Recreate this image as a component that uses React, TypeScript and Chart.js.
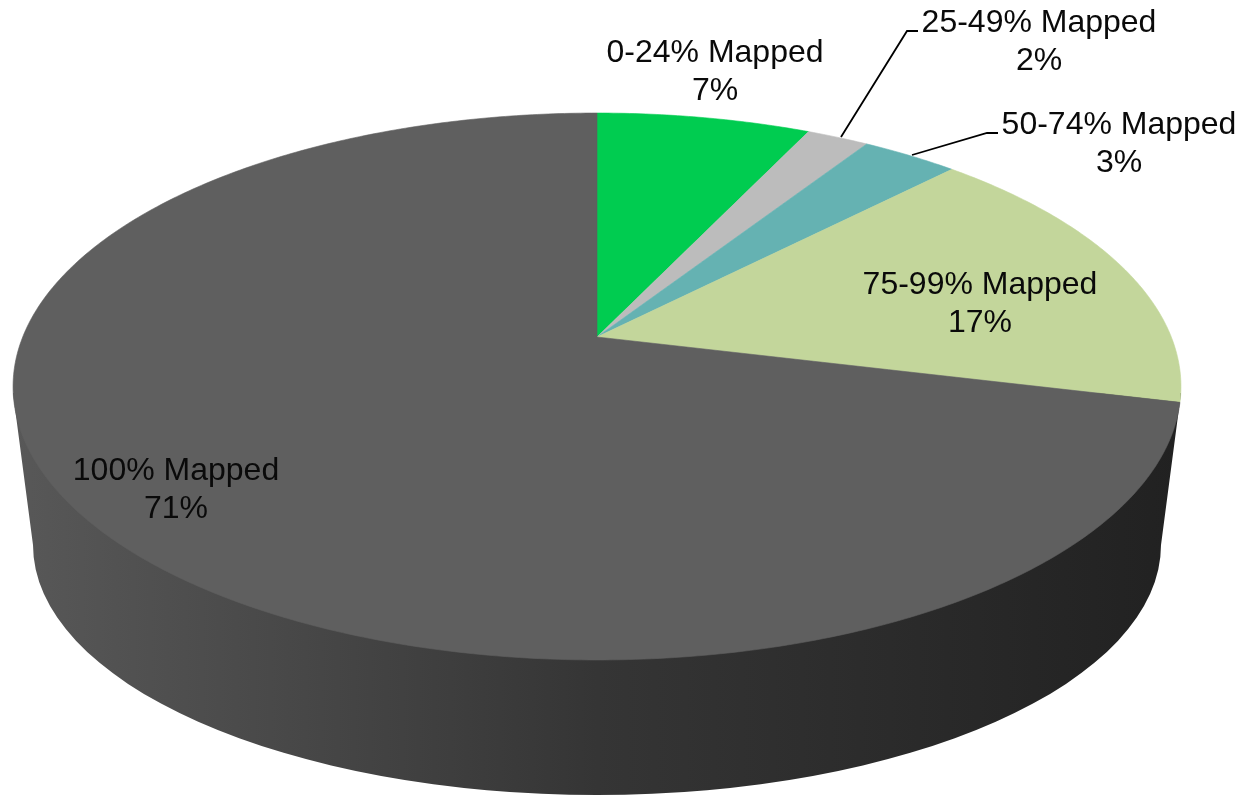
import React, { useEffect, useRef } from "react";
import { Chart, registerables } from "chart.js";

Chart.register(...registerables);

const categories = ["0-24% Mapped", "25-49% Mapped", "50-74% Mapped", "75-99% Mapped", "100% Mapped"];
const shares = [7.05, 2.05, 3.2, 16.5, 71.2];
const shareLabels = ["7%", "2%", "3%", "17%", "71%"];
const sliceColors = ["#00cc50", "#bcbcbc", "#65b2b2", "#c3d69b", "#5f5f5f"];

// Perspective of the tilted pie: the apex sits above the centre of the rim ellipse.
const APEX = { x: 597, y: 337 };
const PROJ = { a: 574.3, b: 264.5, k: 0.181 };

const project = (theta: number) => {
  const u = Math.sin(theta);
  const v = Math.cos(theta);
  const w = 1 + PROJ.k * v;
  return { x: APEX.x + (PROJ.a * u) / w, y: APEX.y - (PROJ.b * v) / w };
};

const LABEL_SPOTS = [
  { x: 715, y: 53 },
  { x: 1039, y: 23 },
  { x: 1119, y: 125 },
  { x: 980, y: 285 },
  { x: 176, y: 471 },
];
const LEADERS: Record<number, number[][]> = {
  1: [[841, 137], [907, 31], [918, 31]],
  2: [[912, 155], [987, 133], [998, 133]],
};

const tiltedPie = {
  id: "tiltedPie",
  beforeDatasetDraw(chart: any) {
    const ctx: CanvasRenderingContext2D = chart.ctx;
    const arcs = chart.getDatasetMeta(0).data;
    ctx.save();

    // side wall
    const grad = ctx.createLinearGradient(13, 0, 1181, 0);
    grad.addColorStop(0, "#585858");
    grad.addColorStop(0.25, "#474747");
    grad.addColorStop(0.5, "#353535");
    grad.addColorStop(0.75, "#2b2b2b");
    grad.addColorStop(1, "#212121");
    ctx.fillStyle = grad;
    ctx.beginPath();
    ctx.moveTo(13, 393);
    ctx.lineTo(33, 545);
    ctx.ellipse(597, 545, 564, 250, 0, Math.PI, 0, true);
    ctx.lineTo(1181, 393);
    ctx.closePath();
    ctx.fill();

    // top face, one wedge per library arc
    arcs.forEach((arc: any, i: number) => {
      const start = arc.startAngle + Math.PI / 2;
      const end = arc.endAngle + Math.PI / 2;
      const steps = Math.max(8, Math.ceil((end - start) * 90));
      ctx.beginPath();
      ctx.moveTo(APEX.x, APEX.y);
      for (let s = 0; s <= steps; s++) {
        const p = project(start + ((end - start) * s) / steps);
        ctx.lineTo(p.x, p.y);
      }
      ctx.closePath();
      ctx.fillStyle = sliceColors[i];
      ctx.strokeStyle = sliceColors[i];
      ctx.lineWidth = 0.6;
      ctx.fill();
      ctx.stroke();
    });

    // leader lines
    ctx.strokeStyle = "#000";
    ctx.lineWidth = 1.8;
    Object.values(LEADERS).forEach((pts) => {
      ctx.beginPath();
      pts.forEach(([x, y], n) => (n ? ctx.lineTo(x, y) : ctx.moveTo(x, y)));
      ctx.stroke();
    });

    // data labels
    ctx.fillStyle = "#0a0a0a";
    ctx.font = '32px "Liberation Sans", Arial, sans-serif';
    ctx.textAlign = "center";
    ctx.textBaseline = "middle";
    categories.forEach((name, i) => {
      const spot = LABEL_SPOTS[i];
      ctx.fillText(name, spot.x, spot.y);
      ctx.fillText(shareLabels[i], spot.x, spot.y + 38);
    });

    ctx.restore();
    return false;
  },
};

export default function App() {
  const ref = useRef<HTMLCanvasElement>(null);
  useEffect(() => {
    document.body.style.margin = "0";
    document.body.style.background = "#fff";
    const chart = new Chart(ref.current!, {
      type: "pie",
      data: {
        labels: categories,
        datasets: [{ data: shares, backgroundColor: sliceColors, borderWidth: 0 }],
      },
      options: {
        responsive: false,
        animation: false,
        layout: { padding: 0 },
        plugins: { legend: { display: false }, tooltip: { enabled: false } },
      },
      plugins: [tiltedPie],
    } as any);
    return () => chart.destroy();
  }, []);
  return <canvas ref={ref} width={1243} height={795} style={{ display: "block" }} />;
}
